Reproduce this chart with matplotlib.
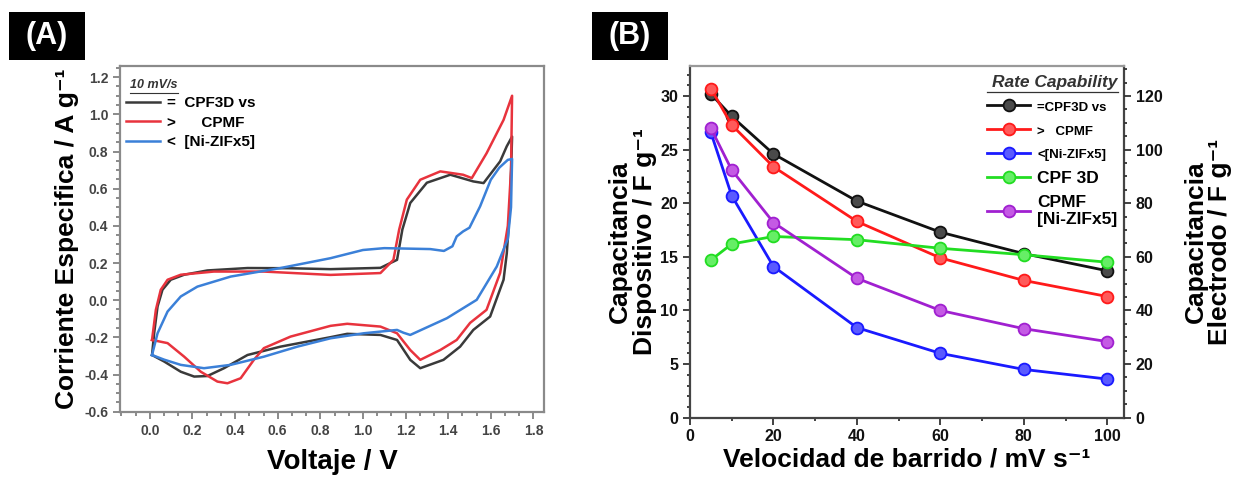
import matplotlib
matplotlib.use("Agg")
import matplotlib.pyplot as plt
from matplotlib.lines import Line2D
from matplotlib.patches import Rectangle
from matplotlib.ticker import MultipleLocator, FormatStrFormatter

plt.rcParams['font.family'] = ['Liberation Sans', 'DejaVu Sans']
plt.rcParams['font.weight'] = 'bold'
plt.rcParams['axes.unicode_minus'] = False

# --- (A) voltammograms at 10 mV/s, one closed loop per device ---
cpf_v = [0.01, 0.02, 0.036, 0.059, 0.098, 0.161, 0.27, 0.458, 0.65, 0.848, 1.082, 1.129,
         1.16, 1.185, 1.222, 1.30, 1.41, 1.518, 1.566, 1.644, 1.675, 1.70,
         1.69, 1.675, 1.66, 1.597, 1.518, 1.456, 1.378, 1.269, 1.222, 1.16, 1.082, 0.926,
         0.848, 0.613, 0.458, 0.348, 0.27, 0.208, 0.145, 0.067, 0.01]
cpf_i = [-0.295, -0.178, -0.034, 0.056, 0.11, 0.137, 0.16, 0.173, 0.172, 0.167, 0.174, 0.2,
         0.217, 0.38, 0.523, 0.632, 0.675, 0.639, 0.63, 0.747, 0.828, 0.88,
         0.5, 0.25, 0.11, -0.088, -0.16, -0.25, -0.321, -0.366, -0.321, -0.214, -0.187, -0.181,
         -0.199, -0.25, -0.295, -0.366, -0.408, -0.411, -0.385, -0.33, -0.295]

cpmf_v = [0.01, 0.028, 0.051, 0.083, 0.145, 0.30, 0.535, 0.848, 1.082, 1.143, 1.17, 1.206,
          1.269, 1.363, 1.47, 1.511, 1.58, 1.66, 1.70,
          1.695, 1.68, 1.644, 1.58, 1.503, 1.44, 1.363, 1.269, 1.222, 1.16, 1.082, 0.926,
          0.848, 0.66, 0.535, 0.488, 0.426, 0.364, 0.317, 0.239, 0.161, 0.083, 0.01]
cpmf_i = [-0.214, -0.052, 0.056, 0.11, 0.137, 0.154, 0.154, 0.136, 0.146, 0.217, 0.38, 0.541,
          0.648, 0.693, 0.675, 0.657, 0.79, 0.97, 1.10,
          0.7, 0.4, 0.147, -0.052, -0.122, -0.214, -0.268, -0.321, -0.268, -0.178, -0.142, -0.127,
          -0.138, -0.196, -0.258, -0.321, -0.42, -0.447, -0.438, -0.385, -0.304, -0.231, -0.214]

zif_v = [0.01, 0.036, 0.083, 0.145, 0.223, 0.379, 0.613, 0.848, 1.0, 1.1, 1.316, 1.38,
         1.42, 1.44, 1.47, 1.50, 1.55, 1.60, 1.64, 1.68, 1.70,
         1.695, 1.68, 1.628, 1.534, 1.394, 1.222, 1.19, 1.16, 1.004, 0.848, 0.692, 0.535,
         0.379, 0.254, 0.145, 0.067, 0.01]
zif_i = [-0.295, -0.178, -0.061, 0.02, 0.073, 0.127, 0.173, 0.226, 0.27, 0.28, 0.275, 0.265,
         0.29, 0.343, 0.37, 0.39, 0.505, 0.648, 0.713, 0.755, 0.76,
         0.5, 0.33, 0.181, 0.002, -0.097, -0.187, -0.175, -0.16, -0.178, -0.205, -0.25, -0.304,
         -0.348, -0.366, -0.348, -0.32, -0.295]

# --- (B) rate capability ---
scan_rate = [5, 10, 20, 40, 60, 80, 100]
cap_cpf3d_vs = [30.2, 28.1, 24.6, 20.2, 17.3, 15.3, 13.7]
cap_cpmf_vs = [30.7, 27.3, 23.4, 18.3, 14.9, 12.8, 11.3]
cap_zif_vs = [26.6, 20.7, 14.1, 8.4, 6.0, 4.5, 3.6]
cap_cpf3d = [14.7, 16.2, 16.9, 16.6, 15.8, 15.2, 14.5]
cap_cpmf_zif = [27.0, 23.1, 18.2, 13.0, 10.0, 8.3, 7.1]

fig = plt.figure(figsize=(12.39, 4.79), dpi=100)

# panel tags
for x0, tag in [(0.0073, '(A)'), (0.4778, '(B)')]:
    fig.patches.append(Rectangle((x0, 0.8747), 0.0613, 0.1002, transform=fig.transFigure,
                                 facecolor='black', edgecolor='none'))
    fig.text(x0 + 0.0306, 0.925, tag, color='white', fontsize=22, fontweight='bold',
             ha='center', va='center')

# ---------- A ----------
ax1 = fig.add_axes([0.0969, 0.1405, 0.3422, 0.7217])
ax1.plot(cpf_v, cpf_i, color='#3a3a3a', lw=1.8, solid_joinstyle='round')
ax1.plot(cpmf_v, cpmf_i, color='#e8333d', lw=1.8, solid_joinstyle='round')
ax1.plot(zif_v, zif_i, color='#3b80d8', lw=1.8, solid_joinstyle='round')
ax1.set_xlim(-0.14, 1.85)
ax1.set_ylim(-0.6, 1.26)
ax1.xaxis.set_minor_locator(MultipleLocator(0.2 / 3))
ax1.yaxis.set_major_locator(MultipleLocator(0.2))
ax1.yaxis.set_minor_locator(MultipleLocator(0.05))
ax1.xaxis.set_major_formatter(FormatStrFormatter('%.1f'))
ax1.yaxis.set_major_formatter(FormatStrFormatter('%.1f'))
ax1.set_xticks([0.0, 0.2, 0.4, 0.6, 0.8, 1.0, 1.2, 1.4, 1.6, 1.8])
ax1.tick_params(which='both', direction='out', color='#777777', labelcolor='#444444',
                labelsize=10, width=1.2)
ax1.tick_params(which='major', length=5)
ax1.tick_params(which='minor', length=3)
for s in ax1.spines.values():
    s.set_color('#8a8a8a')
    s.set_linewidth(1.6)
ax1.set_xlabel('Voltaje / V', fontsize=20, fontweight='bold', labelpad=8)
ax1.set_ylabel('Corriente Especifica / A g⁻¹', fontsize=19, fontweight='bold')
ax1.yaxis.set_label_coords(-0.097, 0.5)

ax1.text(0.024, 0.945, '10 mV/s', transform=ax1.transAxes, fontsize=9, fontstyle='italic',
         fontweight='bold', color='#333333', va='center')
ax1.plot([0.024, 0.137], [0.922, 0.922], transform=ax1.transAxes, color='#333333', lw=0.8)
h1 = [Line2D([], [], color='#3a3a3a', lw=1.8),
      Line2D([], [], color='#e8333d', lw=1.8),
      Line2D([], [], color='#3b80d8', lw=1.8)]
ax1.legend(h1, ['=  CPF3D vs', '>      CPMF', '<  [Ni-ZIFx5]'], loc='upper left',
           bbox_to_anchor=(0.0, 0.93), frameon=False, fontsize=11, handlelength=2.2,
           handletextpad=0.5, labelspacing=0.35, borderaxespad=0.2, borderpad=0.2)

# ---------- B ----------
ax2 = fig.add_axes([0.5569, 0.128, 0.3503, 0.7342])
series = [
    (cap_cpf3d_vs, '#111111', '#4a4a4a', '=CPF3D vs'),
    (cap_cpmf_vs, '#ff1a1a', '#ff5a5a', '>   CPMF'),
    (cap_zif_vs, '#1a1aff', '#5a5aff', '<[Ni-ZIFx5]'),
    (cap_cpf3d, '#22dd22', '#66ee66', 'CPF 3D'),
    (cap_cpmf_zif, '#a020d0', '#c45ae4', 'CPMF\n[Ni-ZIFx5]'),
]
handles = []
for vals, col, face, lab in series:
    ln, = ax2.plot(scan_rate, vals, color=col, lw=2, marker='o', markersize=8.5,
                   markerfacecolor=face, markeredgecolor=col, markeredgewidth=1.3, label=lab)
    handles.append(ln)
ax2.set_xlim(0, 104)
ax2.set_ylim(0, 32.8)
ax2.xaxis.set_major_locator(MultipleLocator(20))
ax2.xaxis.set_minor_locator(MultipleLocator(10))
ax2.yaxis.set_major_locator(MultipleLocator(5))
ax2.yaxis.set_minor_locator(MultipleLocator(1))
ax2.tick_params(which='both', direction='out', color='#333333', labelcolor='#111111',
                labelsize=11.5, width=1.3)
ax2.tick_params(which='major', length=5)
ax2.tick_params(which='minor', length=2.5)
for s in ax2.spines.values():
    s.set_color('#444444')
    s.set_linewidth(1.6)
ax2.spines['top'].set_color('#999999')
ax2.set_xlabel('Velocidad de barrido / mV s⁻¹', fontsize=19, fontweight='bold', labelpad=2)
ax2.set_ylabel('Capacitancia\nDispositivo / F g⁻¹', fontsize=19, fontweight='bold',
               linespacing=1.05)
ax2.yaxis.set_label_coords(-0.076, 0.5)

ax3 = ax2.twinx()
ax3.set_ylim(0, 32.8 * 4)
ax3.yaxis.set_major_locator(MultipleLocator(20))
ax3.yaxis.set_minor_locator(MultipleLocator(5))
ax3.tick_params(which='both', direction='out', color='#333333', labelcolor='#111111',
                labelsize=11.5, width=1.3)
ax3.tick_params(which='major', length=5)
ax3.tick_params(which='minor', length=2.5)
for s in ax3.spines.values():
    s.set_visible(False)
ax3.set_ylabel('Capacitancia\nElectrodo / F g⁻¹', fontsize=19, fontweight='bold',
               linespacing=1.05)
ax3.yaxis.set_label_coords(1.137, 0.5)

ax2.text(0.985, 0.952, 'Rate Capability', transform=ax2.transAxes, fontsize=12.5,
         fontstyle='italic', fontweight='bold', color='#333333', ha='right', va='center')
ax2.plot([0.685, 0.985], [0.927, 0.927], transform=ax2.transAxes, color='#333333', lw=0.9)
leg = ax2.legend(handles, [h.get_label() for h in handles], loc='upper right',
                 bbox_to_anchor=(1.0, 0.925), frameon=False, fontsize=12, handlelength=2.6,
                 handletextpad=0.4, labelspacing=0.55, borderaxespad=0.2, borderpad=0.2)
for t, fs in zip(leg.get_texts(), [9.5, 9.5, 9.5, 12.5, 12.5]):
    t.set_fontsize(fs)

fig.savefig('out.png', dpi=100)
